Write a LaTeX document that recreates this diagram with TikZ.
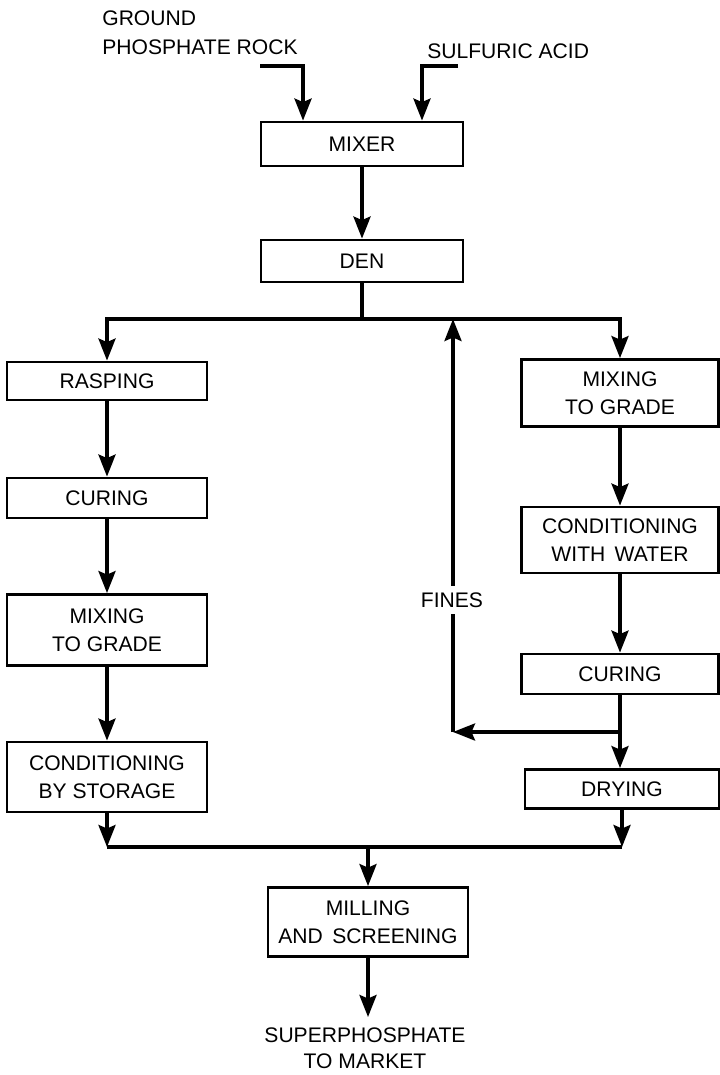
\documentclass[tikz,border=0pt]{standalone}
\usepackage{fontspec}
\setmainfont{Liberation Sans}
\usetikzlibrary{arrows.meta}
\tikzset{
  caja/.style={draw, line width=1.6pt, align=center, inner sep=0pt, font=\fontsize{12}{16}\selectfont},
  flujo/.style={line width=2pt, -{Stealth[length=4.4mm,width=3.4mm,inset=0.7mm]}},
  linea/.style={line width=2pt},
  texto/.style={font=\fontsize{12}{16}\selectfont, inner sep=0pt}
}

\begin{document}
\begin{tikzpicture}[x=0.02cm,y=-0.02cm]
    \useasboundingbox (0,0) rectangle (720,1075);

    % Entradas de materia prima
    \node[texto, anchor=north west, align=left] (roca) at (102,10) {GROUND\\[1pt]PHOSPHATE ROCK};
    \node[texto, anchor=base west] (acido) at (427,58) {SULFURIC ACID};
    \coordinate (rocain) at (260,66);
    \coordinate (acidoin) at (458,66);

    % Cajas centrales
    \node[caja, minimum width=4.04cm, minimum height=0.88cm] (mixer) at (362,144) {MIXER};
    \node[caja, minimum width=4.04cm, minimum height=0.84cm] (den) at (362,261) {DEN};

    % Rama izquierda
    \node[caja, minimum width=4cm, minimum height=0.76cm] (rasp) at (107,381) {RASPING};
    \node[caja, minimum width=4cm, minimum height=0.8cm] (cura1) at (107,498) {CURING};
    \node[caja, minimum width=4cm, minimum height=1.42cm] (mezcla1) at (107,630) {MIXING\\TO GRADE};
    \node[caja, minimum width=4cm, minimum height=1.4cm] (almacen) at (107,777) {CONDITIONING\\BY STORAGE};

    % Rama derecha
    \node[caja, minimum width=3.94cm, minimum height=1.34cm] (mezcla2) at (620,393) {MIXING\\TO GRADE};
    \node[caja, minimum width=3.94cm, minimum height=1.32cm] (agua) at (620,540) {CONDITIONING\\WITH\,\ WATER};
    \node[caja, minimum width=3.94cm, minimum height=0.8cm] (cura2) at (620,674) {CURING};
    \node[caja, minimum width=3.88cm, minimum height=0.78cm] (secado) at (622,789) {DRYING};

    % Molienda y producto
    \node[caja, minimum width=4cm, minimum height=1.38cm] (molino) at (368,922) {MILLING\\AND\,\ SCREENING};
    \node[texto, anchor=north, align=center, font=\fontsize{12}{15}\selectfont] (producto) at (365,1027) {SUPERPHOSPHATE\\TO MARKET};

    % Puntos de union
    \coordinate (reparto) at (362,319);
    \coordinate (union) at (368,847);
    \coordinate (bifurca) at (621,732);
    \coordinate (retorno) at (453,732);

    % Flechas de entrada
    \draw[flujo] (rocain) -| ([xshift=-1.18cm]mixer.north);
    \draw[flujo] (acidoin) -| ([xshift=1.2cm]mixer.north);
    \draw[flujo] (mixer) -- (den);
    \draw[linea] (den) -- (reparto);

    % Reparto a las dos ramas
    \draw[flujo] (reparto) -| (rasp.north);
    \draw[flujo] (reparto) -| (mezcla2.north);

    \draw[flujo] (rasp) -- (cura1);
    \draw[flujo] (cura1) -- (mezcla1);
    \draw[flujo] (mezcla1) -- (almacen);

    \draw[flujo] (mezcla2) -- (agua);
    \draw[flujo] (agua) -- (cura2);
    \draw[flujo] (cura2.south) -- (cura2.south |- secado.north);

    % Retorno de finos
    \draw[flujo] (bifurca) -- (retorno);
    \draw[flujo] (retorno) -- (retorno |- reparto);
    \node[texto, fill=white, inner xsep=1pt, inner ysep=4pt] (finos) at (452,600) {FINES};

    % Union de las ramas
    \draw[flujo] (almacen.south) -- (almacen.south |- union);
    \draw[flujo] (secado.south) -- (secado.south |- union);
    \draw[linea] (almacen.south |- union) -- (secado.south |- union);
    \draw[flujo] (union) -- (molino);
    \draw[flujo, shorten >=0.2cm] (molino.south) -- (molino.south |- producto.north);

\end{tikzpicture}
\end{document}
